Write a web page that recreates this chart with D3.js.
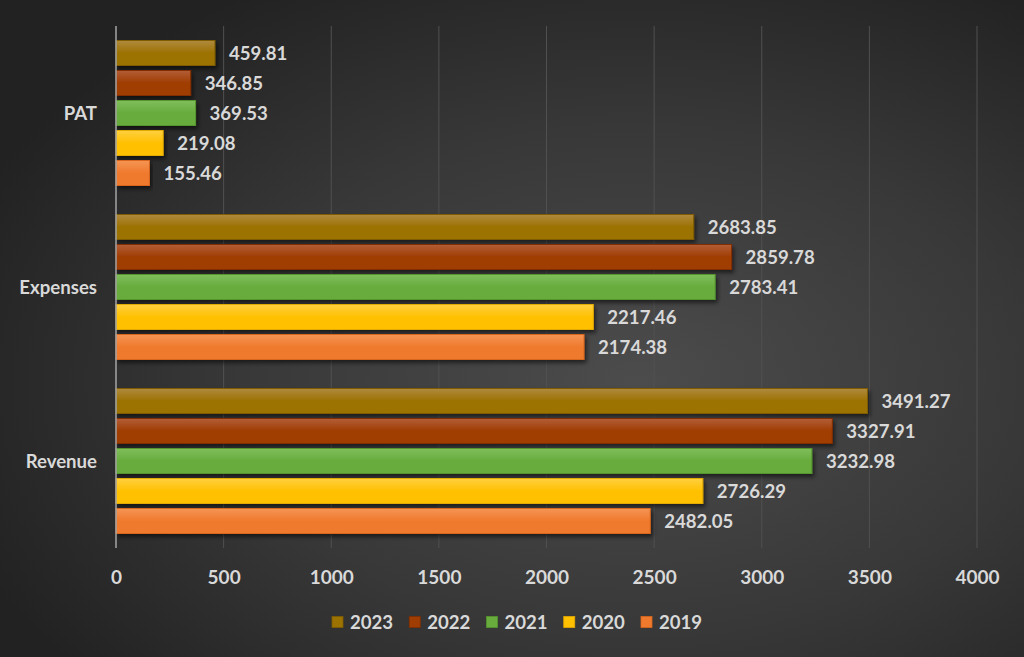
<!DOCTYPE html>
<html><head><meta charset="utf-8">
<script src="https://cdn.jsdelivr.net/npm/d3@7"></script>
<style>html,body{margin:0;padding:0;background:#2a2a2a;}svg{display:block;}</style>
</head><body>
<svg id="chart" width="1024" height="657"></svg>
<script>
const categories = ["PAT", "Expenses", "Revenue"];
const seriesNames = ["2023", "2022", "2021", "2020", "2019"];
const v2023 = [459.81, 2683.85, 3491.27];
const v2022 = [346.85, 2859.78, 3327.91];
const v2021 = [369.53, 2783.41, 3232.98];
const v2020 = [219.08, 2217.46, 2726.29];
const v2019 = [155.46, 2174.38, 2482.05];
const xTicks = [0, 500, 1000, 1500, 2000, 2500, 3000, 3500, 4000];
const colors = ["#9C7200", "#A03D02", "#67AC3D", "#FFC000", "#EF7A2E"];
const lights = ["#B08A40", "#B25E38", "#80BE5C", "#FFD040", "#F59454"];
const darks  = ["#7F5C00", "#822F00", "#55952F", "#E3AA00", "#D8661C"];

const seriesValues = [v2023, v2022, v2021, v2020, v2019];
const W = 1024, H = 657;
const svg = d3.select("#chart");
const defs = svg.append("defs");

const bg = defs.append("radialGradient").attr("id","bg")
  .attr("cx","62%").attr("cy","58%").attr("r","70%");
bg.append("stop").attr("offset","0%").attr("stop-color","#4c4c4c");
bg.append("stop").attr("offset","55%").attr("stop-color","#383838");
bg.append("stop").attr("offset","100%").attr("stop-color","#222222");
svg.append("rect").attr("width",W).attr("height",H).attr("fill","url(#bg)");

seriesNames.forEach((s,i)=>{
  const g = defs.append("linearGradient").attr("id","g"+i)
    .attr("x1",0).attr("y1",0).attr("x2",0).attr("y2",1);
  g.append("stop").attr("offset","0%").attr("stop-color",lights[i]);
  g.append("stop").attr("offset","50%").attr("stop-color",colors[i]);
  g.append("stop").attr("offset","100%").attr("stop-color",colors[i]);
});
const f = defs.append("filter").attr("id","sh").attr("x","-5%").attr("y","-30%").attr("width","115%").attr("height","180%");
f.append("feDropShadow").attr("dx",2).attr("dy",3).attr("stdDeviation",2).attr("flood-color","#000").attr("flood-opacity",0.55);

const pLeft = 116, pRight = 977, pTop = 26, pBottom = 548;
const x = d3.scaleLinear().domain([0, 4000]).range([pLeft, pRight]);
const y0 = d3.scaleBand().domain(categories).range([pTop, pBottom]).paddingInner(0).paddingOuter(0);
const innerPad = 14.5;
const y1 = d3.scaleBand().domain(seriesNames)
  .range([innerPad, y0.bandwidth() - innerPad]).paddingInner(5/30).paddingOuter(0);

// gridlines
svg.append("g").selectAll("line").data(xTicks.filter(t=>t>0)).join("line")
  .attr("x1",d=>x(d)).attr("x2",d=>x(d)).attr("y1",pTop).attr("y2",pBottom)
  .attr("stroke","#505050").attr("stroke-width",1);

// bars
const font = "Lato, 'Open Sans', sans-serif";
const gCat = svg.append("g").selectAll("g").data(categories).join("g")
  .attr("transform",d=>`translate(0,${y0(d)})`);
gCat.each(function(cat, ci){
  const g = d3.select(this);
  seriesNames.forEach((s,si)=>{
    const v = seriesValues[si][ci];
    g.append("rect").attr("x",x(0)).attr("y",y1(s))
      .attr("width",x(v)-x(0)).attr("height",y1.bandwidth())
      .attr("fill","url(#g"+si+")").attr("stroke",darks[si]).attr("stroke-width",1)
      .attr("filter","url(#sh)");
    g.append("text").attr("x",x(v)+14).attr("y",y1(s)+y1.bandwidth()/2)
      .attr("dominant-baseline","central")
      .attr("fill","#d9d9d9").attr("font-family",font).attr("font-weight",700)
      .attr("font-size","18.6px").text(v.toFixed(2));
  });
});

// y axis line
svg.append("line").attr("x1",x(0)).attr("x2",x(0)).attr("y1",pTop).attr("y2",pBottom)
  .attr("stroke","#a6a6a6").attr("stroke-width",1.5);

// category labels
svg.append("g").selectAll("text").data(categories).join("text")
  .attr("x",97).attr("y",d=>y0(d)+y0.bandwidth()/2)
  .attr("text-anchor","end").attr("dominant-baseline","central")
  .attr("fill","#d9d9d9").attr("font-family",font).attr("font-weight",700)
  .attr("font-size","18.6px").text(d=>d);

// x axis
const xAxis = d3.axisBottom(x).tickValues(xTicks).tickSize(0).tickPadding(0).tickFormat(d3.format("d"));
const ax = svg.append("g").attr("transform",`translate(0,${pBottom})`).call(xAxis);
ax.select(".domain").remove();
ax.selectAll("text").attr("y",29).attr("dy","0.35em")
  .attr("fill","#d9d9d9").attr("font-family",font).attr("font-weight",700).attr("font-size","19px");

// legend
const legX = d3.scalePoint().domain(seriesNames).range([332, 641]);
const lg = svg.append("g").selectAll("g").data(seriesNames).join("g")
  .attr("transform",d=>`translate(${legX(d)},622)`);
lg.append("rect").attr("x",0).attr("y",-5.5).attr("width",11).attr("height",11)
  .attr("fill",(d,i)=>colors[i]).attr("stroke",(d,i)=>darks[i]).attr("stroke-width",0.8);
lg.append("text").attr("x",18).attr("y",0).attr("dominant-baseline","central")
  .attr("fill","#d9d9d9").attr("font-family",font).attr("font-weight",700)
  .attr("font-size","18.6px").text(d=>d);
</script>
</body></html>
